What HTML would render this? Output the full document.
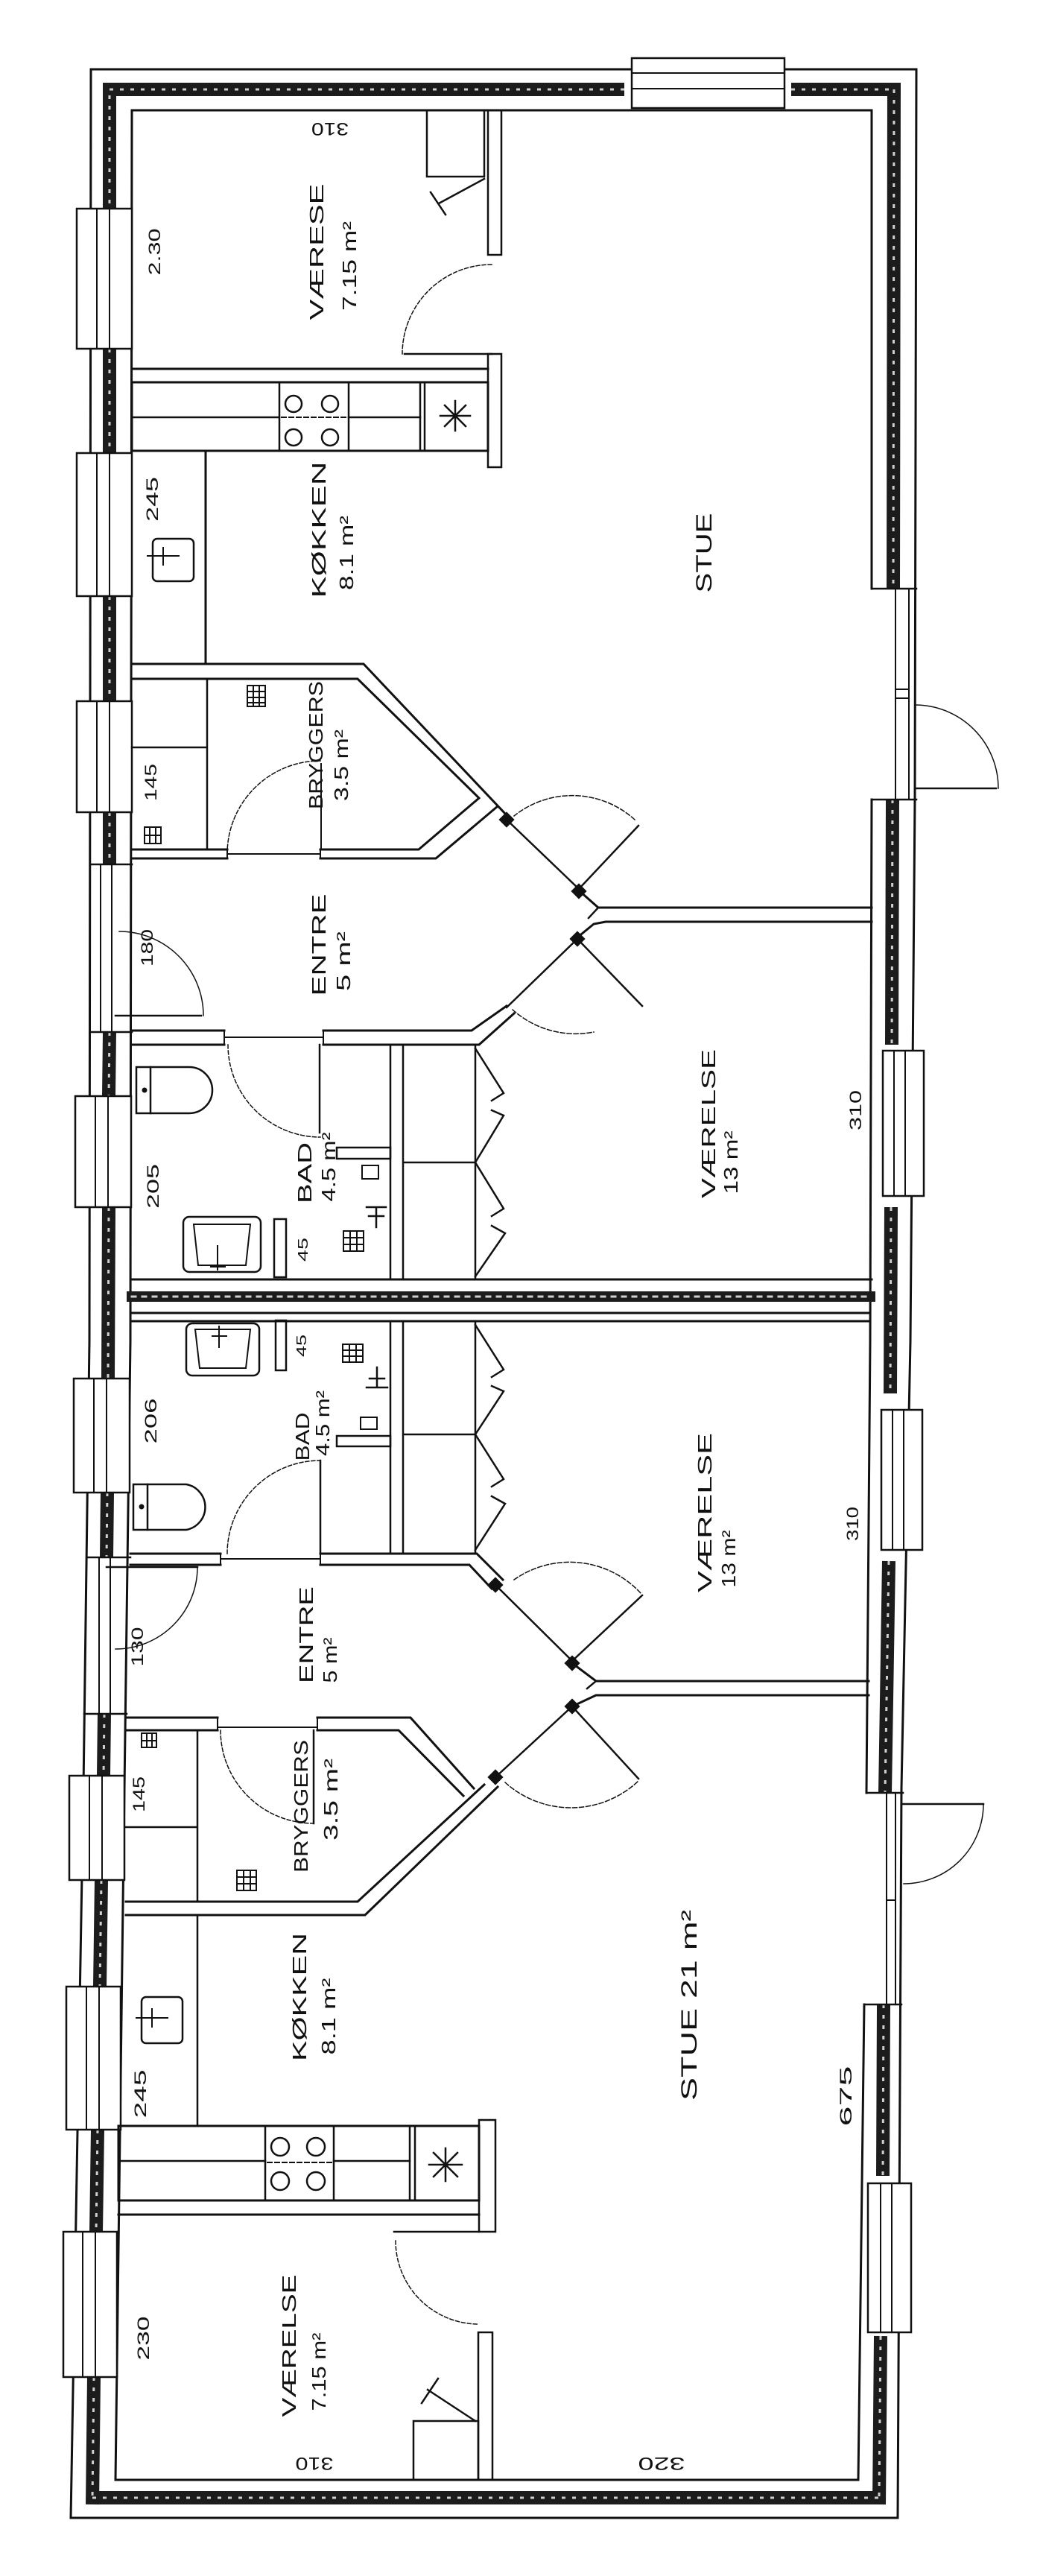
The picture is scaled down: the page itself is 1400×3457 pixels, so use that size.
<!DOCTYPE html>
<html><head><meta charset="utf-8">
<style>
html,body{margin:0;padding:0;background:#fff;}
svg{display:block;}
text{font-family:"Liberation Sans",sans-serif;fill:#111;}
</style></head>
<body>
<svg width="1400" height="3457" viewBox="0 0 1400 3457" xmlns="http://www.w3.org/2000/svg">
<rect width="1400" height="3457" fill="#fff"/>
<g fill="none" stroke="#111" stroke-width="3" stroke-linecap="square" stroke-linejoin="miter">

<!-- HATCH -->
<g stroke="#1c1c1c" stroke-width="18" stroke-linecap="butt">
<path d="M147,128 V280 M147,468 V608 M147,800 V941 M147,1090 V1160 M147,1385 L146,1471 M146,1620 L145,1850 M144,2003 L143,2090 M140,2300 L139,2383 M136,2523 L134,2666 M131,2858 L129,2995 M126,3190 L124,3361"/>
<path d="M124,3352 H1180"/>
<path d="M138,120 H838 M1062,120 H1209"/>
<path d="M1200,111 L1199,790 M1198,1073 L1197,1402 M1196,1620 L1195,1870 M1193,2095 L1188,2406 M1186,2690 L1185,2920 M1182,3135 L1180,3361"/>
</g>
<g stroke="#cfcfcf" stroke-width="3" stroke-dasharray="5 9" stroke-linecap="butt">
<path d="M147,128 V280 M147,468 V608 M147,800 V941 M147,1090 V1160 M147,1385 L146,1471 M146,1620 L145,1850 M144,2003 L143,2090 M140,2300 L139,2383 M136,2523 L134,2666 M131,2858 L129,2995 M126,3190 L124,3352"/>
<path d="M124,3352 H1180"/>
<path d="M147,120 H838 M1062,120 H1200"/>
<path d="M1200,120 L1199,790 M1198,1073 L1197,1402 M1196,1620 L1195,1870 M1193,2095 L1188,2406 M1186,2690 L1185,2920 M1182,3135 L1180,3352"/>
</g>

<!-- OUTER / INNER WALL LINES -->
<polyline points="122,93 120,1800 112,2400 95,3379"/>
<polyline points="177,148 175,1800 167,2400 155,3328"/>
<path d="M122,93 H848 M1053,93 H1230"/>
<path d="M177,148 H1170"/>
<polyline points="1230,93 1228,1073 1222,1800 1210,2400 1205,3379"/>
<path d="M1170,148 L1170,790 M1170,1073 L1168,1800 L1163,2406 M1160,2690 L1152,3328"/>
<path d="M95,3379 H1205 M155,3328 H1152"/>
<!-- block ends at right openings -->
<path d="M1170,790 H1230 M1170,1073 H1230 M1163,2406 H1212 M1160,2690 H1210" stroke-width="2.5"/>
<path d="M1202,790 V1073 M1220,790 V1073 M1190,2406 V2690 M1202,2406 V2690" stroke-width="2"/>
<path d="M1202,925 H1220 M1202,937 H1220 M1190,2550 H1202" stroke-width="2"/>
<!-- entre thin walls left -->
<path d="M135,1160 V1385 M150,1160 V1385 M133,2090 V2300 M148,2090 V2300" stroke-width="2"/>
<path d="M122,1160 H177 M122,1385 H177 M118,2090 H175 M113,2300 H170" stroke-width="2.5"/>

<!-- TOP WINDOW -->
<rect x="848" y="78" width="205" height="67" fill="#fff" stroke-width="2.5"/>
<path d="M848,98 H1053 M848,119 H1053" stroke-width="2"/>

<!-- LEFT WINDOWS -->
<g fill="#fff" stroke-width="2.5">
<rect x="103" y="280" width="74" height="188"/>
<rect x="103" y="608" width="74" height="192"/>
<rect x="103" y="941" width="74" height="149"/>
<rect x="101" y="1471" width="75" height="149"/>
<rect x="99" y="1850" width="75" height="153"/>
<rect x="93" y="2383" width="74" height="140"/>
<rect x="89" y="2666" width="73" height="192"/>
<rect x="85" y="2995" width="72" height="195"/>
</g>
<g stroke-width="2">
<path d="M130,280 V468 M147,280 V468 M130,608 V800 M147,608 V800 M130,941 V1090 M147,941 V1090"/>
<path d="M128,1471 V1620 M145,1471 V1620 M126,1850 V2003 M143,1850 V2003"/>
<path d="M120,2383 V2523 M137,2383 V2523 M116,2666 V2858 M133,2666 V2858 M111,2995 V3190 M128,2995 V3190"/>
</g>
<!-- RIGHT WINDOWS -->
<g fill="#fff" stroke-width="2.5">
<rect x="1185" y="1410" width="55" height="195"/>
<rect x="1183" y="1892" width="55" height="188"/>
<rect x="1165" y="2930" width="58" height="200"/>
</g>
<path d="M1200,1410 V1605 M1215,1410 V1605 M1198,1892 V2080 M1213,1892 V2080 M1182,2930 V3130 M1197,2930 V3130" stroke-width="2"/>

<!-- RIGHT EXTERIOR DOORS -->
<path d="M1228,1058 H1337" stroke-width="2.5"/>
<path d="M1228,946 A112,112 0 0 1 1340,1058" stroke-width="1.5"/>
<path d="M1210,2421 H1320" stroke-width="2.5"/>
<path d="M1320,2421 A107,107 0 0 1 1213,2528" stroke-width="1.5"/>

<!-- ===== UPPER UNIT ===== -->
<!-- værelse -->
<rect x="573" y="148" width="77" height="89" stroke-width="2.5"/>
<path d="M650,240 L589,273 M578,258 L598,288" stroke-width="2.5"/>
<path d="M655,148 V342 M673,148 V342 M655,342 H673" stroke-width="2.5"/>
<path d="M543,475 H660" stroke-width="2.5"/>
<path d="M660,355 A120,120 0 0 0 540,475" stroke-width="1.5" stroke-dasharray="5 3"/>
<path d="M655,475 V627 M673,475 V627 M655,627 H673 M655,475 H673" stroke-width="2.5"/>
<path d="M177,495 H655 M177,513 H655" stroke-width="3"/>
<!-- kitchen -->
<rect x="177" y="513" width="478" height="92" stroke-width="3"/>
<path d="M375,513 V605 M468,513 V605 M564,513 V605 M570,513 V605" stroke-width="2.5"/>
<path d="M177,560 H375 M468,560 H564" stroke-width="2.5"/>
<path d="M378,560 H466" stroke-width="2" stroke-dasharray="6 4"/>
<g stroke-width="2.5"><circle cx="394" cy="542" r="11"/><circle cx="443" cy="542" r="11"/><circle cx="394" cy="587" r="11"/><circle cx="443" cy="587" r="11"/></g>
<path d="M611,538 V578 M591,558 H631 M597,544 L625,572 M625,544 L597,572" stroke-width="2.5"/>
<path d="M276,605 V891" stroke-width="3"/>
<rect x="205" y="723" width="55" height="57" rx="6" stroke-width="2.5"/>
<path d="M198,746 H240 M219,735 V758" stroke-width="2"/>
<!-- bryggers -->
<polyline points="177,891 488,891 680,1094" stroke-width="3"/>
<polyline points="177,911 480,911 643,1071 562,1140 430,1140" stroke-width="3"/>
<path d="M305,1140 H177 M177,1152 H305 M430,1152 H585 L668,1082" stroke-width="3"/>
<path d="M305,1140 V1152 M430,1140 V1152 M305,1146 H430" stroke-width="2"/>
<path d="M278,911 V1140 M177,1003 H278" stroke-width="2.5"/>
<path d="M431,1025 V1140" stroke-width="2"/>
<path d="M305,1146 A125,125 0 0 1 430,1021" stroke-width="1.5" stroke-dasharray="5 3"/>
<g stroke-width="2"><rect x="332" y="920" width="24" height="28"/><path d="M332,928 H356 M332,936 H356 M332,943 H356 M340,920 V948 M348,920 V948"/>
<rect x="194" y="1110" width="22" height="22"/><path d="M194,1121 H216 M201,1110 V1132 M209,1110 V1132"/></g>
<!-- double doors -->
<rect x="674" y="1094" width="12" height="12" fill="#111" transform="rotate(45 680 1100)"/>
<path d="M680,1100 L777,1193 L857,1108" stroke-width="2.5"/>
<path d="M852,1100 A125,125 0 0 0 690,1095" stroke-width="1.5" stroke-dasharray="6 3"/>
<rect x="771" y="1190" width="12" height="12" fill="#111" transform="rotate(45 777 1196)"/>
<polyline points="777,1195 803,1218 1170,1218" stroke-width="3"/>
<polyline points="775,1258 797,1240 813,1237 1170,1237" stroke-width="3"/>
<path d="M803,1218 L790,1232" stroke-width="2.5"/>
<rect x="769" y="1254" width="12" height="12" fill="#111" transform="rotate(45 775 1260)"/>
<path d="M680,1352 L775,1260 L862,1350" stroke-width="2.5"/>
<path d="M688,1355 A127,127 0 0 0 797,1385" stroke-width="1.5" stroke-dasharray="6 3"/>
<!-- entre / bad wall -->
<path d="M177,1383 H301 M177,1402 H301" stroke-width="3"/>
<polyline points="434,1383 633,1383 680,1350" stroke-width="3"/>
<polyline points="434,1402 643,1402 690,1360" stroke-width="3"/>
<path d="M301,1383 V1402 M434,1383 V1402 M301,1392 H434" stroke-width="2"/>
<!-- entre left door -->
<path d="M155,1363 H270" stroke-width="2.5"/>
<path d="M160,1250 A113,113 0 0 1 273,1363" stroke-width="1.5"/>
<!-- bad -->
<path d="M306,1402 A124,124 0 0 0 430,1526" stroke-width="1.5" stroke-dasharray="5 3"/>
<path d="M429,1402 V1520" stroke-width="2.5"/>
<path d="M524,1402 V1716 M541,1402 V1716 M638,1402 V1716 M541,1560 H638" stroke-width="2.5"/>
<path d="M638,1407 L676,1467 L660,1477 M660,1490 L676,1497 L638,1560 M638,1560 L676,1622 L660,1632 M660,1645 L678,1655 L638,1713" stroke-width="2.5"/>
<rect x="452" y="1540" width="72" height="15" stroke-width="2.5"/>
<rect x="486" y="1564" width="22" height="18" stroke-width="2"/>
<path d="M492,1620 L518,1620 M505,1620 V1647 M495,1632 H515" stroke-width="2.5"/>
<g stroke-width="2"><rect x="461" y="1652" width="27" height="27"/><path d="M461,1661 H488 M461,1670 H488 M470,1652 V1679 M479,1652 V1679"/></g>
<path d="M183,1432 H254 A31,31 0 0 1 254,1494 H183 Z" stroke-width="2.5"/>
<path d="M202,1432 V1494" stroke-width="2.5"/>
<circle cx="194" cy="1463" r="2" fill="#111"/>
<rect x="246" y="1633" width="104" height="74" rx="8" stroke-width="2.5"/>
<path d="M260,1643 H336 L330,1698 H266 Z" stroke-width="2"/>
<path d="M292,1672 V1704 M283,1700 H302" stroke-width="2"/>
<rect x="368" y="1636" width="16" height="78" stroke-width="2.5"/>

<!-- PARTY WALL -->
<path d="M177,1717 H1170 M177,1762 H1168 M177,1773 H1168" stroke-width="3"/>
<path d="M177,1740 H1168" stroke="#1c1c1c" stroke-width="14"/>
<path d="M177,1740 H1168" stroke="#cfcfcf" stroke-width="3" stroke-dasharray="5 9"/>

<!-- ===== LOWER UNIT ===== -->
<path d="M524,1773 V2085 M541,1773 V2085 M638,1773 V2085 M541,1925 H638" stroke-width="2.5"/>
<path d="M638,1778 L676,1838 L660,1848 M660,1860 L676,1867 L638,1925 M638,1925 L676,1985 L660,1995 M660,2008 L678,2018 L638,2080" stroke-width="2.5"/>
<rect x="452" y="1927" width="72" height="14" stroke-width="2.5"/>
<rect x="484" y="1902" width="22" height="16" stroke-width="2"/>
<path d="M492,1862 L520,1862 M506,1835 V1862 M496,1850 H516" stroke-width="2.5"/>
<g stroke-width="2"><rect x="460" y="1804" width="27" height="24"/><path d="M460,1812 H487 M460,1820 H487 M469,1804 V1828 M478,1804 V1828"/></g>
<rect x="250" y="1776" width="98" height="70" rx="8" stroke-width="2.5"/>
<path d="M262,1784 H336 L330,1836 H268 Z" stroke-width="2"/>
<path d="M294,1780 V1808 M285,1793 H304" stroke-width="2"/>
<rect x="370" y="1772" width="14" height="67" stroke-width="2.5"/>
<path d="M179,1992 H250 A31,31 0 0 1 250,2053 H179 Z" stroke-width="2.5"/>
<path d="M198,1992 V2053" stroke-width="2.5"/>
<circle cx="190" cy="2022" r="2" fill="#111"/>
<path d="M305,2085 A125,125 0 0 1 430,1960" stroke-width="1.5" stroke-dasharray="5 3"/>
<path d="M430,1960 V2085" stroke-width="2.5"/>
<!-- bad/entre wall lower -->
<path d="M175,2085 H296 M175,2100 H296" stroke-width="3"/>
<polyline points="430,2085 640,2085 675,2120" stroke-width="3"/>
<polyline points="430,2100 630,2100 660,2132" stroke-width="3"/>
<path d="M296,2085 V2100 M430,2085 V2100 M296,2092 H430" stroke-width="2"/>
<!-- entre lower left door -->
<path d="M143,2103 H265" stroke-width="2.5"/>
<path d="M265,2103 A110,110 0 0 1 155,2213" stroke-width="1.5"/>
<!-- double doors lower -->
<rect x="659" y="2121" width="12" height="12" fill="#111" transform="rotate(45 665 2127)"/>
<path d="M665,2127 L768,2229 L862,2141" stroke-width="2.5"/>
<path d="M690,2120 A130,130 0 0 1 860,2138" stroke-width="1.5" stroke-dasharray="6 3"/>
<rect x="762" y="2226" width="12" height="12" fill="#111" transform="rotate(45 768 2232)"/>
<polyline points="768,2232 800,2256 1166,2256" stroke-width="3"/>
<polyline points="768,2290 800,2275 1166,2275" stroke-width="3"/>
<path d="M800,2256 L788,2266" stroke-width="2.5"/>
<rect x="762" y="2284" width="12" height="12" fill="#111" transform="rotate(45 768 2290)"/>
<path d="M665,2385 L768,2290 L857,2387" stroke-width="2.5"/>
<path d="M678,2392 A132,132 0 0 0 857,2390" stroke-width="1.5" stroke-dasharray="6 3"/>
<rect x="659" y="2379" width="12" height="12" fill="#111" transform="rotate(45 665 2385)"/>
<!-- bryggers lower -->
<path d="M169,2305 H292 M169,2322 H292" stroke-width="3"/>
<polyline points="426,2305 551,2305 636,2400" stroke-width="3"/>
<polyline points="426,2322 535,2322 622,2410" stroke-width="3"/>
<path d="M292,2305 V2322 M426,2305 V2322 M292,2318 H426" stroke-width="2"/>
<polyline points="169,2552 480,2552 650,2395" stroke-width="3"/>
<polyline points="169,2570 490,2570 668,2398" stroke-width="3"/>
<path d="M265,2322 V2552 M265,2570 V2853 M169,2452 H265" stroke-width="2.5"/>
<path d="M296,2322 A125,125 0 0 0 421,2447" stroke-width="1.5" stroke-dasharray="5 3"/>
<path d="M421,2322 V2447" stroke-width="2.5"/>
<g stroke-width="2"><rect x="318" y="2510" width="26" height="27"/><path d="M318,2519 H344 M318,2528 H344 M327,2510 V2537 M336,2510 V2537"/>
<rect x="190" y="2326" width="20" height="19"/><path d="M190,2336 H210 M197,2326 V2345 M204,2326 V2345"/></g>
<!-- kitchen lower -->
<rect x="190" y="2680" width="55" height="62" rx="6" stroke-width="2.5"/>
<path d="M183,2708 H225 M204,2696 V2720" stroke-width="2"/>
<rect x="159" y="2853" width="484" height="100" stroke-width="3"/>
<path d="M356,2853 V2953 M448,2853 V2953 M550,2853 V2953 M557,2853 V2953" stroke-width="2.5"/>
<path d="M159,2900 H356 M448,2900 H550" stroke-width="2.5"/>
<path d="M359,2902 H446" stroke-width="2" stroke-dasharray="6 4"/>
<g stroke-width="2.5"><circle cx="376" cy="2881" r="12"/><circle cx="424" cy="2881" r="12"/><circle cx="376" cy="2927" r="12"/><circle cx="424" cy="2927" r="12"/></g>
<path d="M598,2883 V2927 M576,2905 H620 M582,2889 L614,2921 M614,2889 L582,2921" stroke-width="2.5"/>
<path d="M643,2845 V2995 M665,2845 V2995 M643,2845 H665 M643,2995 H665" stroke-width="2.5"/>
<path d="M159,2972 H643" stroke-width="3"/>
<!-- værelse lower -->
<path d="M529,2995 H643" stroke-width="2.5"/>
<path d="M531,3007 A112,112 0 0 0 643,3119" stroke-width="1.5" stroke-dasharray="5 3"/>
<path d="M642,3130 V3328 M661,3130 V3328 M642,3130 H661" stroke-width="2.5"/>
<rect x="555" y="3249" width="87" height="79" stroke-width="2.5"/>
<path d="M638,3249 L574,3207 M588,3192 L566,3225" stroke-width="2.5"/>
</g>

<!-- LABELS -->
<g font-size="26" text-anchor="middle" lengthAdjust="spacingAndGlyphs">
<text transform="translate(434,338) rotate(-90)" textLength="183" lengthAdjust="spacingAndGlyphs">VÆRESE</text>
<text transform="translate(478,357) rotate(-90)" textLength="120" lengthAdjust="spacingAndGlyphs">7.15 m²</text>
<text transform="translate(215,338) rotate(-90)" textLength="63" lengthAdjust="spacingAndGlyphs" font-size="22">2.30</text>
<text transform="translate(443,165) rotate(180)" textLength="50" lengthAdjust="spacingAndGlyphs" font-size="24">310</text>
<text transform="translate(437,711) rotate(-90)" textLength="183" lengthAdjust="spacingAndGlyphs">KØKKEN</text>
<text transform="translate(474,742) rotate(-90)" textLength="100" lengthAdjust="spacingAndGlyphs">8.1 m²</text>
<text transform="translate(955,742) rotate(-90)" textLength="107" lengthAdjust="spacingAndGlyphs" font-size="30">STUE</text>
<text transform="translate(212,670) rotate(-90)" textLength="60" lengthAdjust="spacingAndGlyphs" font-size="22">245</text>
<text transform="translate(433,1000) rotate(-90)" textLength="172" lengthAdjust="spacingAndGlyphs">BRYGGERS</text>
<text transform="translate(467,1027) rotate(-90)" textLength="96" lengthAdjust="spacingAndGlyphs">3.5 m²</text>
<text transform="translate(210,1050) rotate(-90)" textLength="50" lengthAdjust="spacingAndGlyphs" font-size="22">145</text>
<text transform="translate(437,1268) rotate(-90)" textLength="137" lengthAdjust="spacingAndGlyphs">ENTRE</text>
<text transform="translate(470,1290) rotate(-90)" textLength="80" lengthAdjust="spacingAndGlyphs">5 m²</text>
<text transform="translate(205,1272) rotate(-90)" textLength="50" lengthAdjust="spacingAndGlyphs" font-size="22">180</text>
<text transform="translate(418,1574) rotate(-90)" textLength="82" lengthAdjust="spacingAndGlyphs">BAD</text>
<text transform="translate(450,1566) rotate(-90)" textLength="93" lengthAdjust="spacingAndGlyphs">4.5 m²</text>
<text transform="translate(213,1592) rotate(-90)" textLength="60" lengthAdjust="spacingAndGlyphs" font-size="22">205</text>
<text transform="translate(413,1677) rotate(-90)" textLength="32" lengthAdjust="spacingAndGlyphs" font-size="18">45</text>
<text transform="translate(960,1508) rotate(-90)" textLength="200" lengthAdjust="spacingAndGlyphs">VÆRELSE</text>
<text transform="translate(990,1560) rotate(-90)" textLength="85" lengthAdjust="spacingAndGlyphs">13 m²</text>
<text transform="translate(1156,1490) rotate(-90)" textLength="54" lengthAdjust="spacingAndGlyphs" font-size="22">310</text>
<text transform="translate(411,1806) rotate(-90)" textLength="30" lengthAdjust="spacingAndGlyphs" font-size="18">45</text>
<text transform="translate(415,1928) rotate(-90)" textLength="65" lengthAdjust="spacingAndGlyphs">BAD</text>
<text transform="translate(442,1910) rotate(-90)" textLength="88" lengthAdjust="spacingAndGlyphs">4.5 m²</text>
<text transform="translate(210,1907) rotate(-90)" textLength="61" lengthAdjust="spacingAndGlyphs" font-size="22">206</text>
<text transform="translate(955,2030) rotate(-90)" textLength="214" lengthAdjust="spacingAndGlyphs">VÆRELSE</text>
<text transform="translate(987,2092) rotate(-90)" textLength="77" lengthAdjust="spacingAndGlyphs">13 m²</text>
<text transform="translate(1152,2045) rotate(-90)" textLength="46" lengthAdjust="spacingAndGlyphs" font-size="22">310</text>
<text transform="translate(420,2194) rotate(-90)" textLength="130" lengthAdjust="spacingAndGlyphs">ENTRE</text>
<text transform="translate(452,2228) rotate(-90)" textLength="61" lengthAdjust="spacingAndGlyphs">5 m²</text>
<text transform="translate(192,2210) rotate(-90)" textLength="53" lengthAdjust="spacingAndGlyphs" font-size="22">130</text>
<text transform="translate(413,2424) rotate(-90)" textLength="178" lengthAdjust="spacingAndGlyphs">BRYGGERS</text>
<text transform="translate(453,2415) rotate(-90)" textLength="110" lengthAdjust="spacingAndGlyphs">3.5 m²</text>
<text transform="translate(194,2408) rotate(-90)" textLength="48" lengthAdjust="spacingAndGlyphs" font-size="22">145</text>
<text transform="translate(411,2680) rotate(-90)" textLength="172" lengthAdjust="spacingAndGlyphs">KØKKEN</text>
<text transform="translate(450,2706) rotate(-90)" textLength="103" lengthAdjust="spacingAndGlyphs">8.1 m²</text>
<text transform="translate(196,2810) rotate(-90)" textLength="65" lengthAdjust="spacingAndGlyphs" font-size="22">245</text>
<text transform="translate(935,2691) rotate(-90)" textLength="256" lengthAdjust="spacingAndGlyphs" font-size="30">STUE  21 m²</text>
<text transform="translate(1143,2813) rotate(-90)" textLength="81" lengthAdjust="spacingAndGlyphs" font-size="22">675</text>
<text transform="translate(397,3148) rotate(-90)" textLength="191" lengthAdjust="spacingAndGlyphs">VÆRELSE</text>
<text transform="translate(437,3183) rotate(-90)" textLength="105" lengthAdjust="spacingAndGlyphs">7.15 m²</text>
<text transform="translate(200,3138) rotate(-90)" textLength="59" lengthAdjust="spacingAndGlyphs" font-size="22">230</text>
<text transform="translate(422,3298) rotate(180)" textLength="51" lengthAdjust="spacingAndGlyphs" font-size="24">310</text>
<text transform="translate(888,3298) rotate(180)" textLength="63" lengthAdjust="spacingAndGlyphs" font-size="24">320</text>
</g>
</svg>
</body></html>
